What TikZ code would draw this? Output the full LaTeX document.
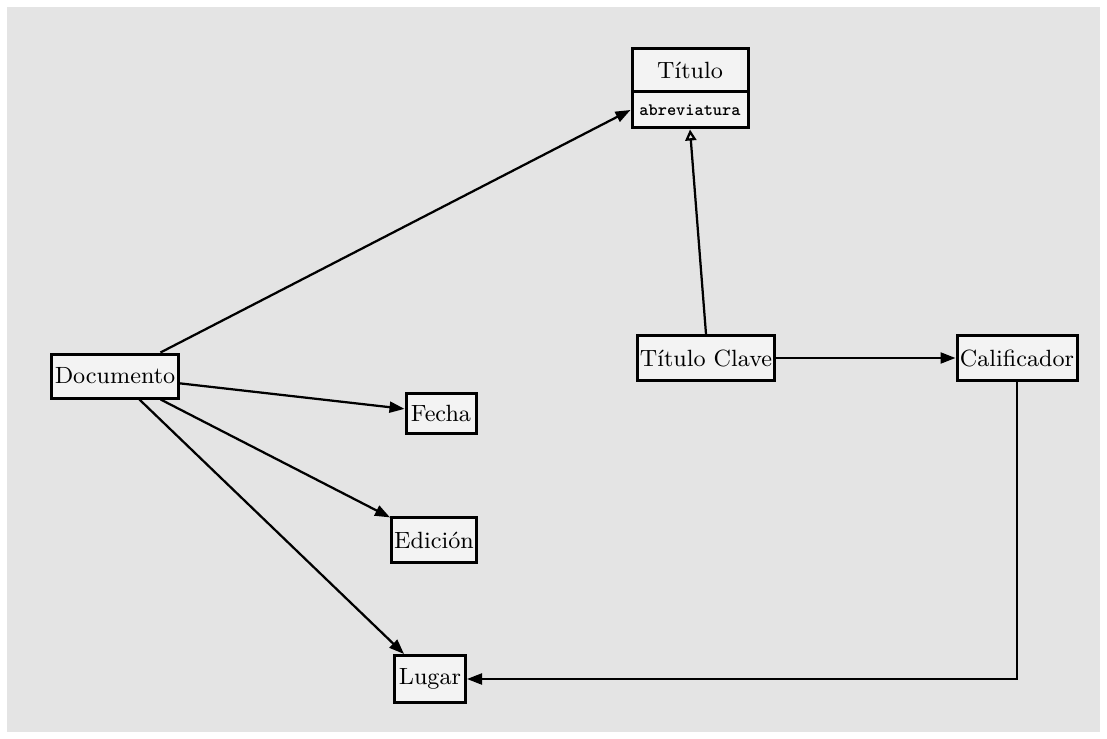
\documentclass[tikz,border=0pt]{standalone}
\usepackage{xcolor}
\usetikzlibrary{arrows.meta, positioning}
\definecolor{paper}{HTML}{E4E4E4}
\definecolor{boxfill}{HTML}{F3F3F3}

\begin{document}
\begin{tikzpicture}[x=0.4pt, y=-0.4pt,
    box/.style={rectangle, draw, line width=1.2pt, fill=boxfill, inner sep=1pt, text centered, font=\fontsize{9.4}{11}\selectfont},
    arrow/.style={-{Triangle[length=6pt, width=4.4pt]}, line width=0.9pt},
    inherit/.style={-{Triangle[open, length=4.4pt, width=4.4pt]}, line width=0.9pt}
]
    \useasboundingbox (0,0) rectangle (1107,739);
    \fill[paper] (7,7) rectangle (1100,732);

    \node[box, minimum width=46.4pt, minimum height=17.2pt] (titulo) at (690,70) {Título};
    \node[box, minimum width=46.4pt, minimum height=14.4pt, font=\scriptsize\ttfamily\bfseries] (abrev) at (690,110) {abreviatura};
    \node[box, minimum width=50.8pt, minimum height=17.6pt] (doc) at (115,376) {Documento};
    \node[box, minimum width=28pt, minimum height=16pt] (fecha) at (441,413) {Fecha};
    \node[box, minimum width=34pt, minimum height=18pt] (edicion) at (434,540) {Edición};
    \node[box, minimum width=28.4pt, minimum height=18.8pt] (lugar) at (430,679) {Lugar};
    \node[box, minimum width=52.8pt, minimum height=18pt] (clave) at (706,358) {Título Clave};
    \node[box, minimum width=48pt, minimum height=18pt] (calif) at (1017,358) {Calificador};

    \draw[arrow] (doc) -- (abrev.west);
    \draw[arrow] (doc) -- (fecha);
    \draw[arrow] (doc) -- (edicion);
    \draw[arrow] (doc) -- (lugar);
    \draw[inherit] (clave.north) -- (abrev.south);
    \draw[arrow] (clave) -- (calif);
    \draw[arrow] (calif.south) |- (lugar.east);
\end{tikzpicture}
\end{document}
